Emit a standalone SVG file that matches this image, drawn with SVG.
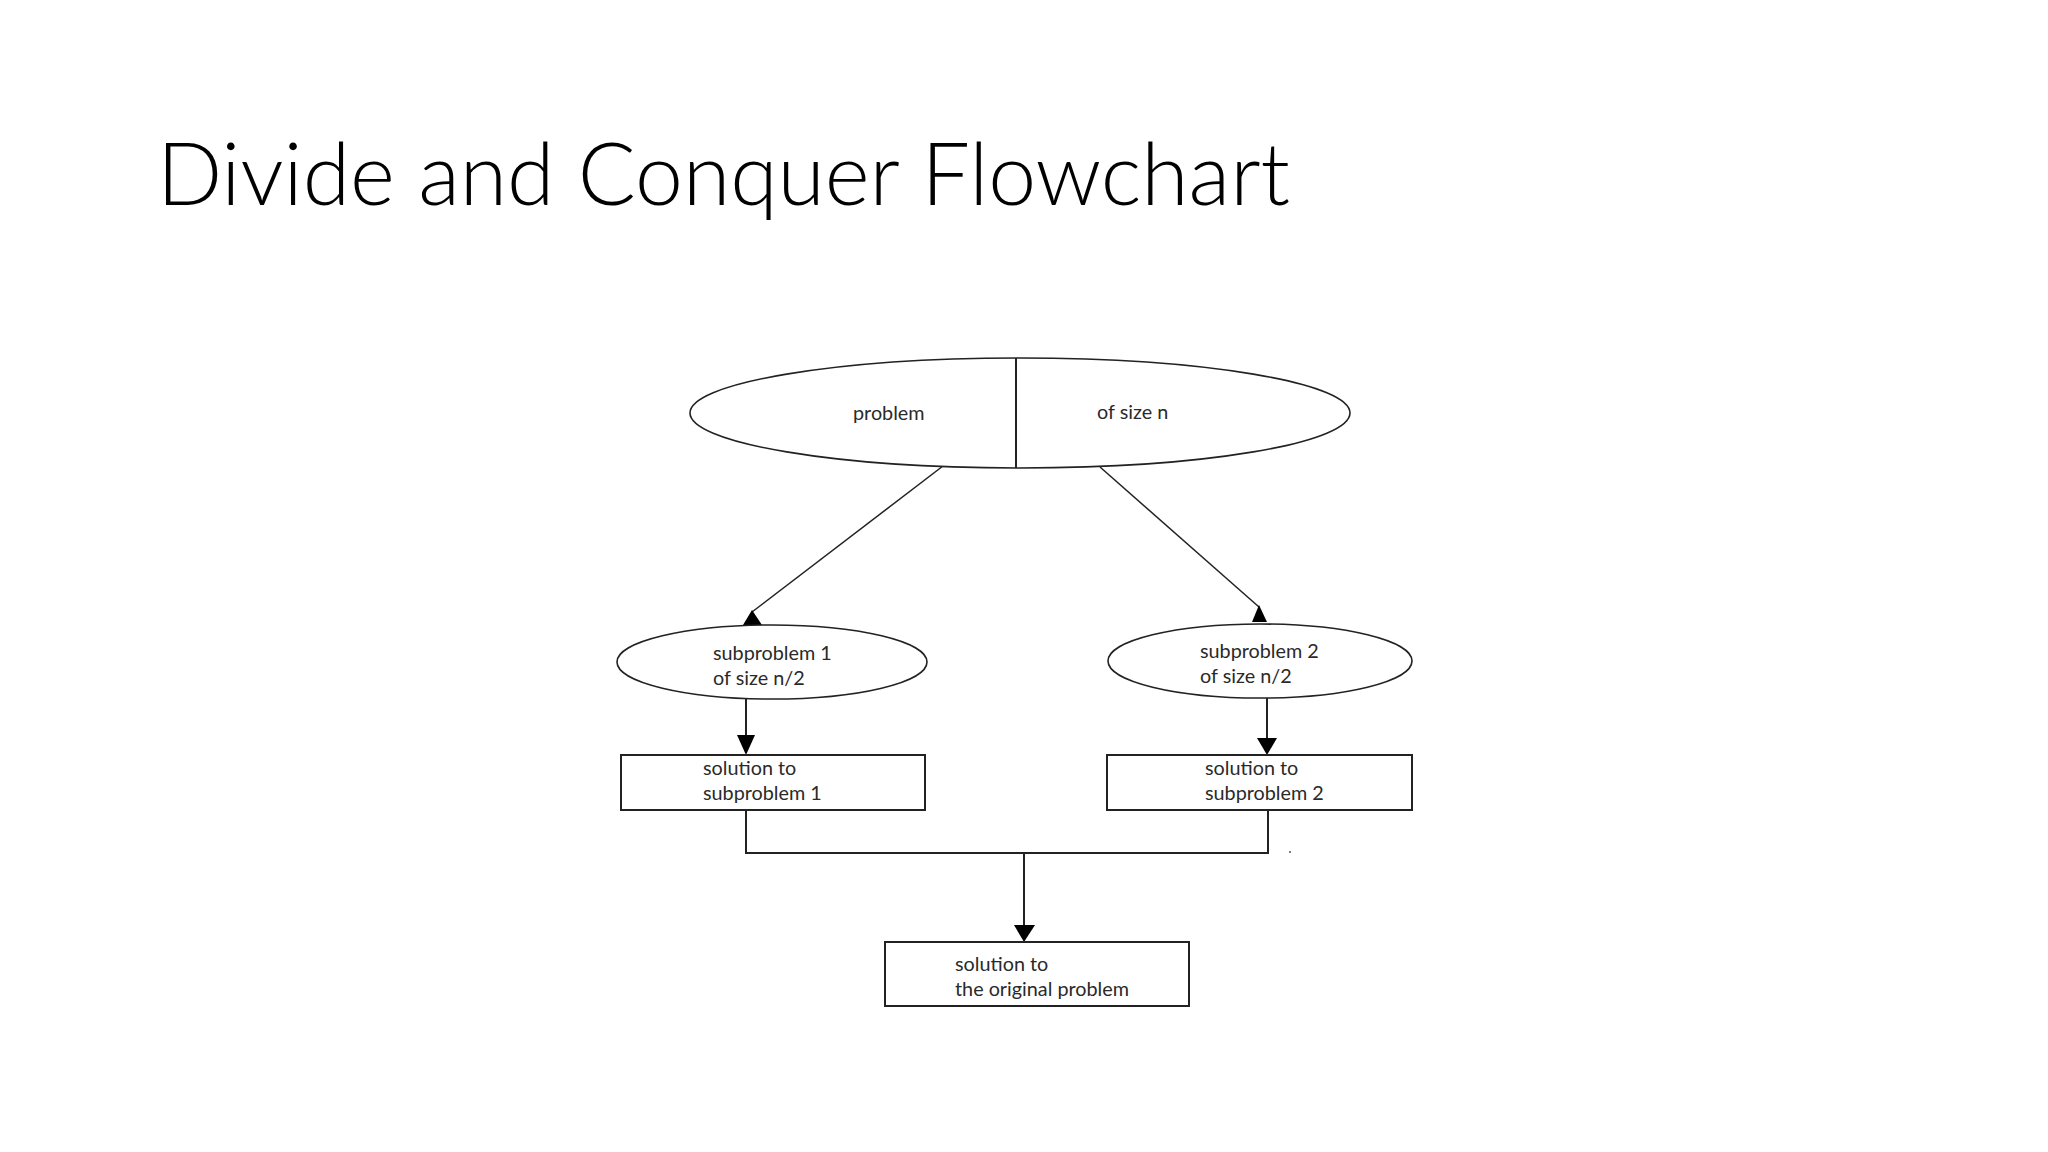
<svg xmlns="http://www.w3.org/2000/svg" width="2048" height="1152" viewBox="0 0 2048 1152">
<style>
  .title { font-family: Lato, "Open Sans", "Liberation Sans", sans-serif; font-weight: 300; font-size: 87px; fill: #000; }
  .lbl { font-family: Lato, "Open Sans", "Liberation Sans", sans-serif; font-size: 19.8px; fill: #2a2a2a; }
  .shape { fill: #fff; stroke: #222; stroke-width: 1.6; }
  .box { fill: #fff; stroke: #222; stroke-width: 2; }
  .line { fill: none; stroke: #222; stroke-width: 1.5; }
  .thick { fill: none; stroke: #222; stroke-width: 2; }
  .head { fill: #000; }
</style>
<rect width="2048" height="1152" fill="#fff"/>
<text class="title" x="157" y="205" textLength="1133" lengthAdjust="spacingAndGlyphs">Divide and Conquer Flowchart</text>

<g id="connectors">
  <line class="line" x1="943" y1="466" x2="752" y2="612"/>
  <polygon class="head" points="752,610 743,625 762,625"/>
  <line class="line" x1="1100" y1="467" x2="1259" y2="607"/>
  <polygon class="head" points="1259,605 1252,622 1267,622"/>
  <line class="thick" x1="746" y1="699" x2="746" y2="737"/>
  <polygon class="head" points="737,735 755,735 746,755"/>
  <line class="thick" x1="1267" y1="698" x2="1267" y2="740"/>
  <polygon class="head" points="1257,738 1277,738 1267,755"/>
  <polyline class="thick" points="746,810 746,853 1268,853 1268,810"/>
  <line class="thick" x1="1024" y1="853" x2="1024" y2="926"/>
  <polygon class="head" points="1014,925 1035,925 1024,942"/>
  <circle cx="1290" cy="852" r="1" fill="#555"/>
</g>

<g id="problem">
  <ellipse class="shape" cx="1020" cy="413" rx="330" ry="55"/>
  <line class="thick" x1="1016" y1="358" x2="1016" y2="468"/>
  <text class="lbl" x="853" y="420">problem</text>
  <text class="lbl" x="1097" y="419">of size n</text>
</g>

<g id="subproblem1">
  <ellipse class="shape" cx="772" cy="662" rx="155" ry="37"/>
  <text class="lbl" x="713" y="660">subproblem 1</text>
  <text class="lbl" x="713" y="685">of size n/2</text>
</g>

<g id="subproblem2">
  <ellipse class="shape" cx="1260" cy="661" rx="152" ry="37"/>
  <text class="lbl" x="1200" y="658">subproblem 2</text>
  <text class="lbl" x="1200" y="683">of size n/2</text>
</g>

<g id="solution1">
  <rect class="box" x="621" y="755" width="304" height="55"/>
  <text class="lbl" x="703" y="775">solution to</text>
  <text class="lbl" x="703" y="800">subproblem 1</text>
</g>

<g id="solution2">
  <rect class="box" x="1107" y="755" width="305" height="55"/>
  <text class="lbl" x="1205" y="775">solution to</text>
  <text class="lbl" x="1205" y="800">subproblem 2</text>
</g>

<g id="solution">
  <rect class="box" x="885" y="942" width="304" height="64"/>
  <text class="lbl" x="955" y="971">solution to</text>
  <text class="lbl" x="955" y="996">the original problem</text>
</g>
</svg>
